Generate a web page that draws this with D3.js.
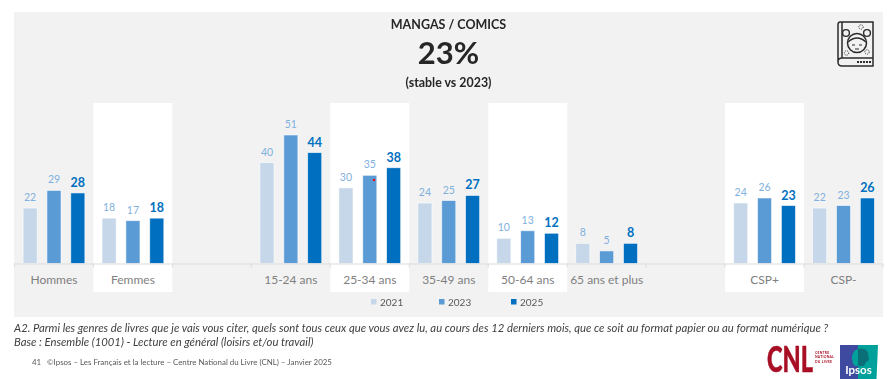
<!DOCTYPE html>
<html><head><meta charset="utf-8">
<script src="https://cdn.jsdelivr.net/npm/d3@7/dist/d3.min.js"></script>
<style>html,body{margin:0;padding:0;background:#fff}svg{display:block;filter:blur(.3px)}text{font-family:Lato,"Open Sans",sans-serif}</style>
</head><body><div id="c"></div>
<script>
const categories = ["Hommes","Femmes","_a","15-24 ans","25-34 ans","35-49 ans","50-64 ans","65 ans et plus","_b","CSP+","CSP-"];
const highlighted = ["Femmes","25-34 ans","50-64 ans","CSP+"];
const years = ["2021","2023","2025"];
const values2021 = [22,18,null,40,30,24,10,8,null,24,22];
const values2023 = [29,17,null,51,35,25,13,5,null,26,23];
const values2025 = [28,18,null,44,38,27,12,8,null,23,26];
const seriesColors = ["#c5d7e9","#5b9bd5","#006fc0"];
const series = [values2021,values2023,values2025];

const W=891,H=379,panel={x:14,y:12,r:883,b:317},base=263.5;
const svg=d3.select("#c").append("svg").attr("width",W).attr("height",H);
svg.append("rect").attr("x",panel.x).attr("y",panel.y).attr("width",panel.r-panel.x).attr("height",panel.b-panel.y).attr("fill","#f2f2f2");

const x=d3.scaleBand().domain(categories).range([panel.x+.5,panel.r]);
const xBar=d3.scaleBand().domain(years).range([0,x.bandwidth()]).paddingInner(.41).paddingOuter(.36);
const y=d3.scaleLinear().domain([0,51]).range([base,135]);

svg.selectAll("rect.band").data(highlighted).join("rect").attr("class","band")
  .attr("x",d=>x(d)).attr("y",103).attr("width",x.bandwidth()).attr("height",292-103).attr("fill","#fff");

years.forEach((yr,i)=>{
  const data=categories.map((c,j)=>({c,v:series[i][j]})).filter(d=>d.v!==null);
  svg.selectAll("rect.b"+yr).data(data).join("rect").attr("class","b"+yr)
    .attr("x",d=>x(d.c)+xBar(yr)).attr("y",d=>y(d.v)).attr("width",xBar.bandwidth()).attr("height",d=>base-y(d.v))
    .attr("fill",seriesColors[i]).attr("stroke","#fff").attr("stroke-opacity",.7).attr("stroke-width",.8);
  svg.selectAll("text.l"+yr).data(data).join("text").attr("class","l"+yr)
    .attr("x",d=>x(d.c)+xBar(yr)+xBar.bandwidth()/2).attr("y",d=>y(d.v)-(i==2?6:7)).attr("text-anchor","middle")
    .attr("font-size",i==2?12.5:10.5).attr("font-weight",i==2?700:400).attr("fill",i==2?"#0070c0":"#7fb0de").text(d=>d.v);
});

// axis
const ax=svg.append("g").attr("transform",`translate(0,${base})`).call(d3.axisBottom(x).tickSize(0).tickPadding(12).tickFormat(d=>d[0]=="_"?"":d));
ax.select(".domain").attr("stroke","#dcdcdc").attr("stroke-width",1.2);
ax.selectAll("text").attr("font-size",12).attr("fill","#7f7f7f").attr("font-family","Lato");
const bounds=categories.map(c=>x(c)).concat([panel.r]);
svg.selectAll("line.tick").data(bounds).join("line").attr("class","tick")
  .attr("x1",d=>d).attr("x2",d=>d).attr("y1",base).attr("y2",base+4).attr("stroke","#dcdcdc");

// red speck
svg.append("circle").attr("cx",374).attr("cy",180).attr("r",1.3).attr("fill","#e8141f");

// titles
const ctitle=448.5;
svg.append("text").attr("x",ctitle).attr("y",29).attr("text-anchor","middle").attr("font-size",12.5).attr("font-weight",700).attr("fill","#262626").text("MANGAS / COMICS");
svg.append("text").attr("x",ctitle).attr("y",64).attr("text-anchor","middle").attr("font-size",31).attr("font-weight",700).attr("fill","#262626").text("23%");
svg.append("text").attr("x",ctitle).attr("y",87).attr("text-anchor","middle").attr("font-size",12.4).attr("font-weight",700).attr("fill","#262626").text("(stable vs 2023)");

// legend
const legendX=d3.scaleOrdinal().domain(years).range([371,439,511]);
years.forEach((yr,i)=>{
  svg.append("rect").attr("x",legendX(yr)).attr("y",299).attr("width",5.5).attr("height",5.5).attr("fill",seriesColors[i]);
  svg.append("text").attr("x",legendX(yr)+9).attr("y",306).attr("font-size",10).attr("fill","#595959").text(yr);
});

// notes
svg.append("text").attr("x",14).attr("y",332).attr("font-size",11.3).attr("font-style","italic").attr("fill","#404040")
 .text("A2. Parmi les genres de livres que je vais vous citer, quels sont tous ceux que vous avez lu, au cours des 12 derniers mois, que ce soit au format papier ou au format numérique ?");
svg.append("text").attr("x",14).attr("y",346).attr("font-size",11.3).attr("font-style","italic").attr("fill","#404040")
 .text("Base : Ensemble (1001) - Lecture en général (loisirs et/ou travail)");
svg.append("text").attr("x",32).attr("y",365).attr("font-size",7.9).attr("fill","#595959").text("41");
svg.append("text").attr("x",47).attr("y",365).attr("font-size",7.9).attr("fill","#595959").text("©Ipsos – Les Français et la lecture – Centre National du Livre (CNL) – Janvier 2025");

// book icon
const ic=svg.append("g").attr("transform","translate(837,21)").attr("fill","none").attr("stroke","#2b2b2b");
ic.append("path").attr("stroke-width",1.5).attr("d","M3 1H36V45H5Q1 45 1 41V4Q1 1 3 1M1 41Q1 37 5 37H36M5 1V37");
ic.append("circle").attr("cx",20).attr("cy",22).attr("r",9.5).attr("stroke-width",1.5).attr("fill","#f2f2f2");
ic.append("circle").attr("cx",9).attr("cy",12).attr("r",3.4).attr("stroke-width",1.4);
ic.append("circle").attr("cx",30).attr("cy",12).attr("r",3.4).attr("stroke-width",1.4);
ic.append("path").attr("stroke-width",1.2).attr("d","M11 21Q20 13 29 21M15 24H18M22 24H25M18 28H22");
ic.append("circle").attr("cx",24).attr("cy",6).attr("r",2.2).attr("stroke-width",1).attr("stroke-dasharray","1 1");
ic.append("circle").attr("cx",9.5).attr("cy",32).attr("r",2.2).attr("stroke-width",1).attr("stroke-dasharray","1 1");
ic.append("circle").attr("cx",30).attr("cy",31).attr("r",2.2).attr("stroke-width",1).attr("stroke-dasharray","1 1");
ic.append("path").attr("stroke-width",2).attr("stroke-dasharray","2 1").attr("d","M20 41H35");

// logos
const red="#a80f24";
const cnl=svg.append("text").attr("font-size",36).attr("font-weight",900).attr("fill",red).attr("stroke",red).attr("stroke-width",.5).attr("font-family","Lato").text("CNL");
cnl.attr("transform",`translate(767,372) scale(${46/cnl.node().getComputedTextLength()},1)`);
const cnlSub=svg.append("text").attr("font-size",3.4).attr("font-weight",700).attr("letter-spacing",.25).attr("fill",red);
["CENTRE","NATIONAL","DU LIVRE"].forEach((t,i)=>cnlSub.append("tspan").attr("x",815).attr("y",354+i*4.4).text(t));
svg.append("rect").attr("x",840).attr("y",345).attr("width",18).attr("height",34).attr("fill","#3e4a9f");
svg.append("path").attr("d","M858 345H878L876.5 379H858Z").attr("fill","#00a19a");
svg.append("path").attr("d","M858 349Q852 351 852 358Q852 363 855 366H858Z").attr("fill","#00a19a");
svg.append("path").attr("d","M858 349Q866 347 868 353L869 360Q865 362 864 366H858Z").attr("fill","#0b6f78");
svg.append("text").attr("x",858.5).attr("y",374).attr("text-anchor","middle").attr("font-size",11.5).attr("font-weight",700).attr("fill","#fff").text("Ipsos");
</script></body></html>
